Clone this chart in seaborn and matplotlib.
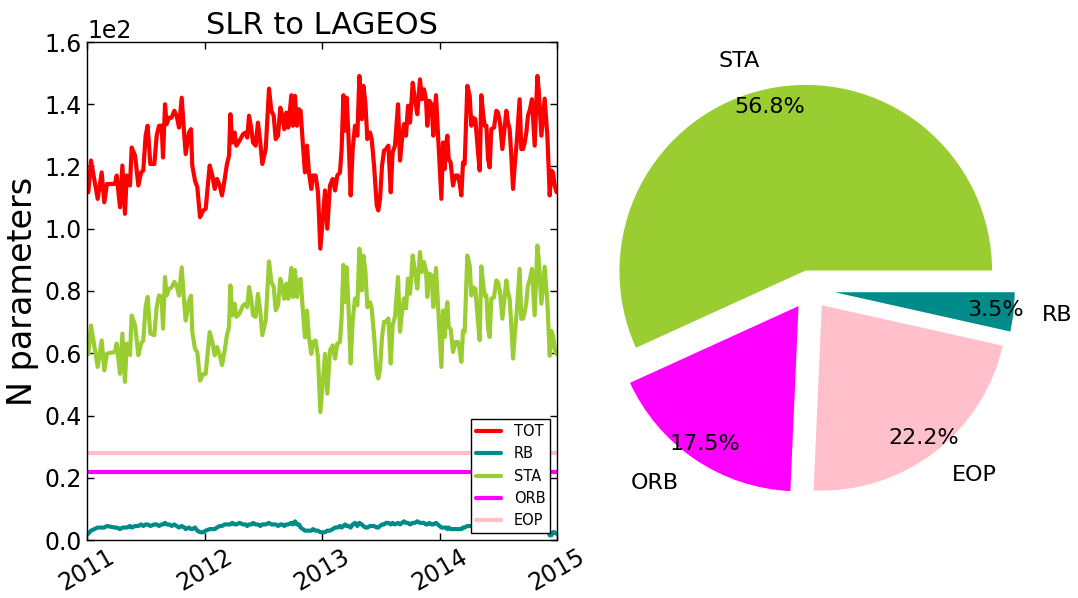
import numpy as np
import pandas as pd
import matplotlib
matplotlib.use("Agg")
import matplotlib.pyplot as plt
from matplotlib.lines import Line2D
from matplotlib.ticker import StrMethodFormatter
import seaborn as sns

# Weekly SLR solution epochs (decimal years) and number of estimated parameters
epoch = [
    2011.011, 2011.034, 2011.091, 2011.125, 2011.147, 2011.170, 2011.238, 2011.253, 2011.281, 2011.301,
    2011.323, 2011.338, 2011.366, 2011.380, 2011.409, 2011.437, 2011.460, 2011.479, 2011.499, 2011.516,
    2011.539, 2011.573, 2011.593, 2011.613, 2011.635, 2011.647, 2011.664, 2011.678, 2011.698, 2011.721,
    2011.743, 2011.763, 2011.783, 2011.806, 2011.828, 2011.840, 2011.868, 2011.885, 2011.896, 2011.919,
    2011.939, 2011.962, 2011.990,
    2012.010, 2012.044, 2012.067, 2012.087, 2012.106, 2012.129, 2012.149, 2012.172, 2012.191, 2012.209,
    2012.220, 2012.237, 2012.257, 2012.271, 2012.299, 2012.328, 2012.350, 2012.364, 2012.379, 2012.399,
    2012.413, 2012.435, 2012.455, 2012.475, 2012.492, 2012.521, 2012.549, 2012.569, 2012.589, 2012.606,
    2012.626, 2012.645, 2012.662, 2012.679, 2012.696, 2012.713, 2012.739, 2012.753, 2012.770, 2012.787,
    2012.804, 2012.818, 2012.838, 2012.855, 2012.872, 2012.889, 2012.909, 2012.923, 2012.946, 2012.966,
    2012.986,
    2013.026, 2013.045, 2013.068, 2013.091, 2013.111, 2013.130, 2013.153, 2013.167, 2013.182, 2013.196,
    2013.210, 2013.224, 2013.244, 2013.261, 2013.281, 2013.301, 2013.318, 2013.338, 2013.352, 2013.369,
    2013.386, 2013.409, 2013.423, 2013.443, 2013.466, 2013.479, 2013.494, 2013.511, 2013.528, 2013.545,
    2013.565, 2013.585, 2013.601, 2013.621, 2013.647, 2013.664, 2013.681, 2013.698, 2013.715, 2013.732,
    2013.749, 2013.772, 2013.791, 2013.811, 2013.834, 2013.851, 2013.868, 2013.885, 2013.896, 2013.913,
    2013.933, 2013.947, 2013.970,
    2014.016, 2014.030, 2014.044, 2014.058, 2014.067, 2014.078, 2014.095, 2014.115, 2014.135, 2014.157,
    2014.172, 2014.186, 2014.200, 2014.214, 2014.237, 2014.257, 2014.271, 2014.285, 2014.305, 2014.328,
    2014.342, 2014.356, 2014.373, 2014.384, 2014.399, 2014.413, 2014.427, 2014.441, 2014.464, 2014.484,
    2014.498, 2014.515, 2014.535, 2014.569, 2014.583, 2014.597, 2014.611, 2014.626, 2014.640, 2014.657,
    2014.682, 2014.696, 2014.711, 2014.725, 2014.739, 2014.753, 2014.770, 2014.787, 2014.810, 2014.833,
    2014.844, 2014.867, 2014.895, 2014.918, 2014.929, 2014.938, 2014.952, 2014.966, 2014.980, 2014.997,
]

n_tot = [
    111.7, 121.9, 109.6, 118.1, 108.5, 114.4, 114.4, 117.1, 106.9, 120.3,
    104.8, 117.1, 113.9, 126.1, 123.5, 113.9, 118.1, 118.7, 129.9, 133.1,
    120.8, 120.8, 129.9, 133.1, 133.1, 122.9, 140.0, 133.6, 135.7, 135.7,
    137.9, 136.3, 132.5, 142.1, 129.9, 124.0, 130.9, 132.0, 120.3, 115.5,
    113.3, 103.7, 105.9,
    106.4, 120.3, 117.1, 112.8, 116.0, 113.9, 110.7, 116.0, 120.8, 123.5,
    136.8, 127.7, 130.9, 126.7, 128.3, 130.4, 130.9, 129.3, 136.3, 132.0,
    127.7, 126.7, 134.1, 127.7, 120.8, 125.6, 145.0, 137.9, 136.3, 128.8,
    129.9, 138.9, 136.3, 132.0, 137.3, 132.5, 142.9, 133.1, 142.7, 133.1,
    138.4, 137.9, 126.7, 118.1, 126.7, 118.1, 112.8, 117.1, 117.1, 111.7,
    93.6,
    112.3, 100.0, 113.9, 116.0, 112.3, 117.1, 118.1, 125.6, 142.9, 131.5,
    142.1, 130.9, 110.7, 125.6, 133.1, 129.9, 149.1, 135.2, 145.9, 140.5,
    128.8, 130.9, 128.8, 120.3, 107.5, 105.9, 109.6, 120.3, 125.1, 125.6,
    126.7, 111.7, 124.5, 126.7, 140.0, 121.9, 128.8, 133.6, 129.9, 139.5,
    134.1, 146.9, 141.6, 136.8, 148.0, 141.6, 144.8, 141.6, 133.1, 141.1,
    140.0, 129.9, 142.9,
    109.6, 127.7, 119.2, 127.7, 129.9, 122.4, 121.3, 113.9, 117.1, 117.1,
    114.4, 110.7, 121.3, 120.8, 145.9, 142.7, 133.1, 135.7, 135.2, 124.5,
    118.7, 142.9, 136.3, 133.1, 133.1, 122.4, 119.7, 132.0, 132.5, 137.9,
    137.3, 134.1, 125.6, 137.9, 134.1, 132.0, 123.5, 112.8, 120.3, 127.7,
    141.6, 125.6, 125.6, 127.7, 130.9, 136.3, 138.4, 141.6, 126.7, 149.1,
    144.8, 129.9, 141.8, 129.9, 119.2, 110.7, 118.7, 118.1, 113.9, 111.7,
]

n_rb = [
    2.0, 3.0, 4.0, 4.0, 4.0, 4.5, 4.0, 4.0, 3.5, 4.0,
    4.0, 4.0, 4.5, 4.0, 4.5, 4.5, 5.0, 4.5, 5.0, 5.0,
    4.5, 5.0, 5.0, 4.5, 5.0, 5.0, 5.5, 5.0, 5.0, 4.5,
    5.0, 4.5, 4.0, 4.5, 4.0, 3.5, 4.0, 3.5, 3.5, 4.0,
    3.0, 2.5, 2.5,
    3.0, 3.5, 3.5, 3.5, 4.0, 4.5, 4.5, 5.0, 5.0, 5.0,
    5.0, 5.5, 5.0, 5.0, 5.5, 5.0, 5.0, 4.5, 5.0, 5.0,
    5.5, 5.0, 5.0, 4.5, 5.0, 5.0, 5.5, 5.0, 5.0, 5.0,
    4.5, 5.0, 5.0, 4.5, 5.0, 5.0, 5.5, 5.0, 6.0, 5.0,
    5.0, 4.0, 3.5, 3.0, 3.0, 3.0, 3.0, 3.5, 3.0, 3.0,
    2.5,
    2.5, 3.0, 3.0, 3.5, 4.0, 4.0, 4.5, 4.0, 4.5, 5.0,
    4.5, 4.5, 4.0, 5.0, 5.5, 4.5, 5.5, 5.0, 4.5, 4.0,
    4.0, 4.5, 4.5, 4.5, 4.0, 4.0, 4.5, 5.0, 5.0, 5.5,
    5.5, 5.0, 5.5, 5.0, 5.5, 5.0, 5.5, 6.0, 5.5, 5.5,
    5.0, 5.5, 5.5, 6.0, 5.5, 5.5, 5.5, 5.0, 5.0, 5.5,
    5.0, 5.0, 5.5,
    4.0, 4.0, 4.0, 4.0, 3.5, 4.0, 3.5, 3.5, 3.5, 3.5,
    3.5, 3.5, 4.0, 4.0, 4.5, 4.5, 4.5, 4.5, 4.5, 4.5,
    4.5, 5.0, 4.5, 4.5, 4.5, 4.5, 4.5, 4.5, 4.5, 4.5,
    4.5, 4.5, 4.5, 4.5, 4.5, 4.5, 4.5, 4.5, 4.5, 4.5,
    4.5, 4.5, 4.5, 4.5, 4.5, 4.5, 4.5, 4.5, 4.5, 4.5,
    4.5, 4.0, 4.0, 3.5, 2.5, 1.5, 1.5, 2.5, 2.5, 2.0,
]

n_sta = [
    59.7, 68.9, 55.6, 64.1, 54.5, 59.9, 60.4, 63.1, 53.4, 66.3,
    50.8, 63.1, 59.4, 72.1, 69.0, 59.4, 63.1, 64.2, 74.9, 78.1,
    66.3, 65.8, 74.9, 78.6, 78.1, 67.9, 84.5, 78.6, 80.7, 81.2,
    82.9, 81.8, 78.5, 87.6, 75.9, 70.5, 76.9, 78.5, 66.8, 61.5,
    60.3, 51.2, 53.4,
    53.4, 66.8, 63.6, 59.3, 62.0, 59.4, 56.2, 61.0, 65.8, 68.5,
    81.8, 72.2, 75.9, 71.7, 72.8, 75.4, 75.9, 74.8, 81.3, 77.0,
    72.2, 71.7, 79.1, 73.2, 65.8, 70.6, 89.5, 82.9, 81.3, 73.8,
    75.4, 83.9, 81.3, 77.5, 82.3, 77.5, 87.4, 78.1, 86.7, 78.1,
    83.4, 83.9, 73.2, 65.1, 73.7, 65.1, 59.8, 63.6, 64.1, 58.7,
    41.1,
    59.8, 47.0, 60.9, 62.5, 58.3, 63.1, 63.6, 71.6, 88.4, 76.5,
    87.6, 76.4, 56.7, 70.6, 77.6, 75.4, 93.6, 80.2, 91.4, 86.5,
    74.8, 76.4, 74.3, 65.8, 53.5, 51.9, 55.1, 65.3, 70.1, 70.1,
    71.2, 56.7, 69.0, 71.7, 84.5, 66.9, 73.3, 77.6, 74.4, 84.0,
    79.1, 91.4, 86.1, 80.8, 92.5, 86.1, 89.3, 86.6, 78.1, 85.6,
    85.0, 74.9, 87.4,
    55.6, 73.7, 65.2, 73.7, 76.4, 68.4, 67.8, 60.4, 63.6, 63.6,
    60.9, 57.2, 67.3, 66.8, 91.4, 88.2, 78.6, 81.2, 80.7, 70.0,
    64.2, 87.9, 81.8, 78.6, 78.6, 67.9, 65.2, 77.5, 78.0, 83.4,
    82.8, 79.6, 71.1, 83.4, 79.6, 77.5, 69.0, 58.3, 65.8, 73.2,
    87.1, 71.1, 71.1, 73.2, 76.4, 81.8, 83.9, 87.1, 72.2, 94.6,
    90.3, 75.9, 87.8, 76.4, 66.7, 59.2, 67.2, 65.6, 61.4, 59.7,
]

# Orbit and Earth-orientation parameters are fixed in every weekly solution
n_orb = 22.0
n_eop = 28.0

# Mean share of each parameter group
pie_labels = ["STA", "ORB", "EOP", "RB"]
pie_share = [56.8, 17.5, 22.2, 3.5]

series_order = ["TOT", "RB", "STA", "ORB", "EOP"]
palette = {"TOT": "red", "RB": "darkcyan", "STA": "yellowgreen",
           "ORB": "magenta", "EOP": "pink"}

sns.set_style("ticks", {"xtick.direction": "in", "ytick.direction": "in",
                        "axes.edgecolor": "black", "text.color": "black",
                        "axes.labelcolor": "black", "xtick.color": "black",
                        "ytick.color": "black"})
plt.rcParams["font.family"] = ["DejaVu Sans"]

columns = {"TOT": n_tot, "RB": n_rb, "STA": n_sta,
           "ORB": [n_orb] * len(epoch), "EOP": [n_eop] * len(epoch)}
df = pd.concat(
    [pd.DataFrame({"epoch": epoch, "N": vals, "group": name})
     for name, vals in columns.items()],
    ignore_index=True,
)

fig = plt.figure(figsize=(10.78, 5.98), dpi=100)

# --- time series of the parameter counts ---
ax = fig.add_axes([87 / 1078, 58 / 598, 470 / 1078, 498 / 598])
sns.lineplot(data=df, x="epoch", y="N", hue="group", hue_order=series_order,
             palette=palette, linewidth=3, estimator=None, sort=False,
             legend=False, ax=ax)
ax.set_xlim(2011, 2015)
ax.set_ylim(0, 160)
ax.set_xticks([2011, 2012, 2013, 2014, 2015])
ax.xaxis.set_major_formatter(StrMethodFormatter("{x:.0f}"))
ax.set_yticks(np.arange(0, 161, 20))
ax.ticklabel_format(axis="y", style="sci", scilimits=(0, 0))
ax.yaxis.get_offset_text().set_fontsize(17)
ax.yaxis.get_offset_text().set_color("black")
ax.tick_params(direction="in", top=True, right=True, labelsize=17,
               length=5, width=1, color="black", labelcolor="black")
for lab in ax.get_xticklabels():
    lab.set_rotation(30)
for sp in ax.spines.values():
    sp.set_visible(True)
    sp.set_color("black")
    sp.set_linewidth(1)
ax.set_xlabel("")
ax.set_ylabel("N parameters", fontsize=24, color="black")
ax.set_title("SLR to LAGEOS", fontsize=22, pad=6, color="black")

handles = [Line2D([], [], color=palette[k], lw=3) for k in series_order]
leg = ax.legend(handles, series_order, loc="lower right", fontsize=10.5,
                frameon=True, fancybox=False, framealpha=1, edgecolor="black",
                handlelength=1.7, handletextpad=0.9, labelspacing=0.5,
                borderpad=0.35, borderaxespad=0.45, labelcolor="black")
leg.get_frame().set_linewidth(1)

# --- pie of the mean parameter shares ---
ax2 = fig.add_axes([0.5343, 0.125, 0.4337, 0.7818])
ax2.pie(pie_share, labels=pie_labels, colors=[palette[k] for k in pie_labels],
        explode=[0.1] * len(pie_share), autopct="%1.1f%%", pctdistance=0.9,
        labeldistance=1.15, startangle=0,
        textprops={"fontsize": 16, "color": "black"})
ax2.set_xlim(-1.25, 1.25)
ax2.set_ylim(-1.25, 1.25)
ax2.set_aspect("equal")
ax2.axis("off")

fig.savefig("out.png", dpi=100)
